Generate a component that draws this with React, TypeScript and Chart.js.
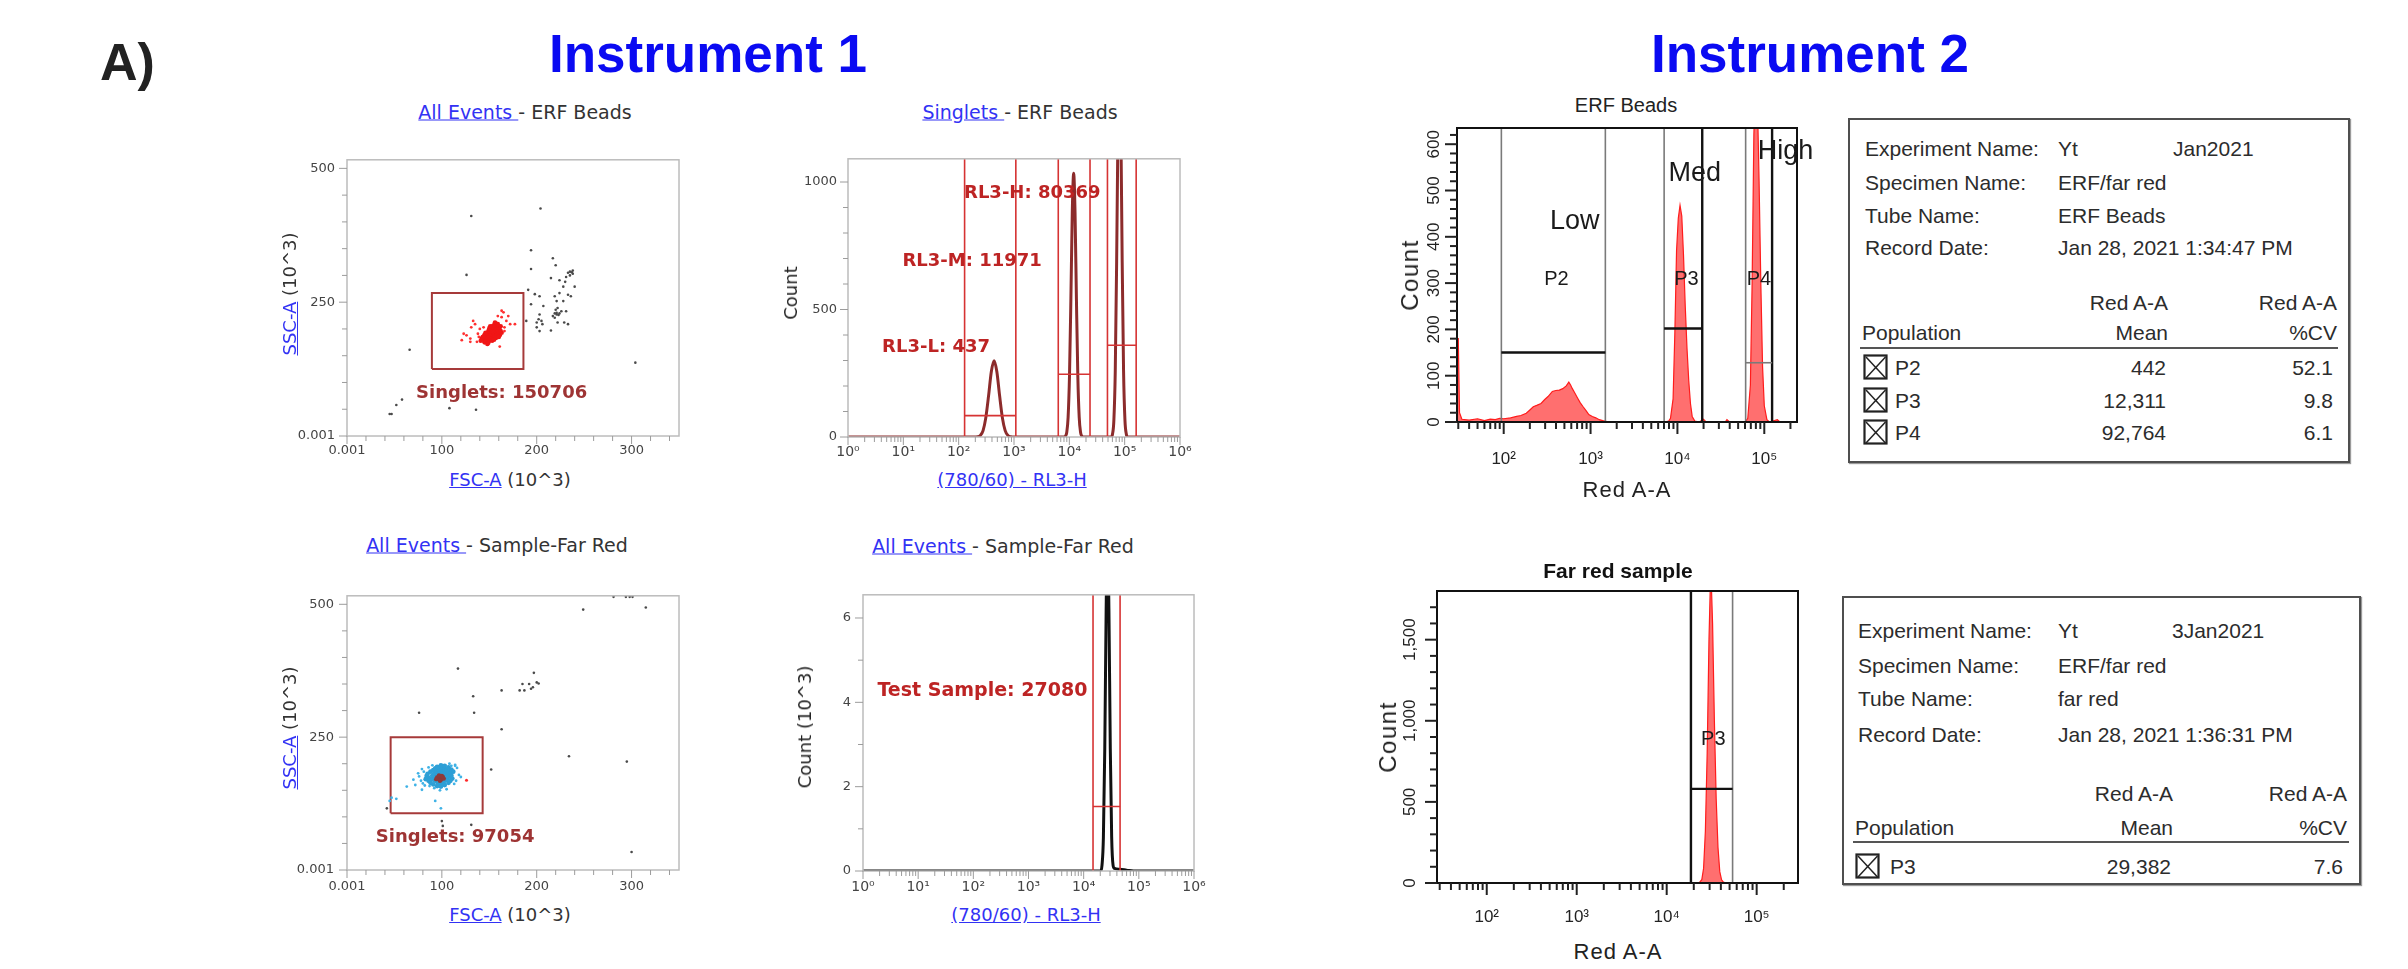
import React, { useEffect, useRef } from 'react';
import { Chart, registerables } from 'chart.js';

Chart.register(...registerables);

type Pt = [number, number];

/* ---------- Instrument 1 · ERF beads · FSC-A vs SSC-A (x10^3) ---------- */
const erfCoreEvents: Pt[] = [
  [145, 175], [147, 178], [149, 180], [151, 182], [153, 185], [155, 188], [157, 191], [159, 195], [161, 199],
  [148, 184], [150, 187], [152, 190], [154, 193], [156, 196], [158, 199], [160, 203], [144, 180], [146, 183],
  [148, 188], [150, 192], [152, 195], [154, 198], [156, 202], [158, 206], [143, 185], [145, 189], [147, 192],
  [149, 196], [151, 199], [153, 203], [155, 207], [157, 210], [150, 178], [152, 181], [154, 183], [156, 186],
  [158, 189], [160, 192], [162, 196], [146, 176], [149, 174], [153, 178], [157, 183], [161, 188], [163, 193],
  [142, 182], [144, 186], [146, 193], [150, 201], [154, 206], [159, 209], [141, 178], [148, 172], [155, 180],
  [160, 185], [151, 205], [156, 212], [162, 205],
];
const erfSingletEvents: Pt[] = [
  [121, 179], [130, 182], [133, 215], [131, 203], [135, 209], [140, 200], [144, 203], [138, 191], [126, 188],
  [165, 231], [170, 224], [172, 209], [177, 209], [159, 224], [163, 234], [130, 176], [161, 167], [166, 203],
  [123, 191], [137, 176], [168, 215], [163, 222], [139, 185], [166, 196],
];
const erfOtherEvents: Pt[] = [
  [204, 425], [131, 411], [194, 347], [217, 332], [220, 319], [126, 301], [237, 306], [238, 309], [235, 300],
  [235, 307], [238, 303], [233, 305], [194, 312], [215, 295], [224, 291], [231, 297], [228, 279], [240, 279],
  [236, 261], [191, 273], [198, 265], [203, 261], [219, 261], [221, 252], [228, 252], [194, 246], [207, 243],
  [222, 239], [221, 230], [226, 233], [231, 233], [220, 236], [221, 227], [217, 224], [203, 227], [205, 215],
  [200, 212], [189, 215], [219, 221], [222, 212], [229, 212], [233, 209], [215, 197], [200, 203], [203, 196],
  [202, 218], [206, 209], [230, 288], [233, 264], [224, 267], [223, 226], [224, 229], [219, 229],
  [66, 161], [58, 68], [52, 58], [45, 41], [47, 41], [108, 52], [136, 49], [304, 137],
];
const erfSingletGate = { fscLo: 89.5, fscHi: 186, sscLo: 125, sscHi: 267 };
const erfSingletTag = { x: 163, y: 80, text: 'Singlets: 150706' };

/* ---------- Instrument 1 · far red sample · FSC-A vs SSC-A ---------- */
const sampleDarkCore: Pt[] = [
  [96, 172], [98, 174], [100, 173], [97, 176], [99, 170], [101, 175], [95, 174], [98, 168], [102, 172],
  [97, 178], [100, 177], [94, 171],
];
const sampleBlueCore: Pt[] = [
  [88, 170], [90, 173], [92, 176], [94, 179], [96, 182], [98, 185], [100, 188], [102, 186], [104, 183],
  [106, 180], [108, 177], [106, 172], [104, 169], [102, 166], [100, 163], [98, 161], [96, 164], [94, 167],
  [92, 169], [90, 178], [92, 182], [94, 186], [96, 189], [98, 192], [100, 194], [103, 191], [105, 188],
  [107, 185], [109, 182], [110, 178], [86, 174], [84, 177], [85, 181], [88, 185], [91, 188], [93, 191],
  [95, 194], [99, 197], [103, 196], [107, 193], [110, 189], [112, 185], [111, 172], [109, 168], [107, 164],
  [103, 160], [99, 157], [95, 158], [91, 161], [88, 164], [86, 168], [83, 171], [97, 172], [99, 175],
  [101, 178], [95, 176], [93, 173], [103, 174], [105, 176], [100, 181], [97, 179], [101, 170], [94, 171],
];
const sampleBlueEvents: Pt[] = [
  [76, 176], [78, 168], [80, 163], [81, 185], [79, 190], [75, 182], [114, 196], [116, 192], [118, 179],
  [115, 168], [113, 162], [120, 175], [105, 152], [98, 150], [92, 154], [87, 158], [82, 159], [70, 170],
  [72, 160], [63, 157], [79, 151], [93, 130], [99, 116], [52, 134], [47, 136], [45, 130], [110, 196],
  [114, 198], [108, 200], [90, 197], [86, 193],
];
const sampleRedEvents: Pt[] = [[126, 169]];
const sampleOtherEvents: Pt[] = [
  [42, 116], [100, 92], [101, 83], [131, 85], [152, 189], [76, 296], [117, 379], [133, 327], [134, 296],
  [163, 338], [163, 265], [197, 371], [182, 338], [187, 338], [185, 350], [192, 350], [196, 344], [200, 353],
  [202, 351], [194, 341], [234, 214], [249, 490], [315, 494], [281, 514], [294, 514], [298, 514], [301, 514],
  [295, 204], [300, 34],
];
const sampleSingletGate = { fscLo: 46, fscHi: 143, sscLo: 107, sscHi: 250 };
const sampleSingletTag = { x: 114, y: 62, text: 'Singlets: 97054' };

/* ---------- Instrument 1 · (780/60) RL3-H histograms ---------- */
const rl3Intensity = [
  1, 195, 219, 246, 276, 309, 347, 389, 437, 490, 550, 617, 693, 777, 872, 978,
  7800, 8472, 8974, 9508, 10072, 10669, 11301, 11971, 12681, 13431, 14228, 15071, 15969, 16915, 18000,
  56878, 60247, 63835, 67622, 71630, 75870, 80369, 85135, 90174, 95519, 101185, 107212, 113561, 1000000,
];
const rl3Count = [
  0, 0, 1, 6, 25, 75, 161, 256, 299, 256, 161, 75, 25, 6, 1, 0,
  0, 3, 18, 78, 242, 542, 880, 1034, 880, 542, 242, 78, 18, 3, 0,
  0, 11, 66, 259, 687, 1233, 1500, 1233, 687, 259, 66, 11, 0, 0,
];
const rl3Gates = [
  { lo: 128, hi: 1079, level: 84 },
  { lo: 6310, hi: 23650, level: 246 },
  { lo: 48860, hi: 161400, level: 360 },
];
const rl3Tags = [
  { x: 2138, y: 955, text: 'RL3-H: 80369' },
  { x: 175, y: 689, text: 'RL3-M: 11971' },
  { x: 39, y: 350, text: 'RL3-L: 437' },
];

const sampleIntensity = [1, 20300, 21509, 22785, 24135, 25564, 27080, 28686, 30384, 32185, 34094, 36125, 45000, 60000, 80000, 1000000];
const sampleCountK = [0, 0, 0.14, 0.8, 2.9, 6.2, 8, 6.2, 2.9, 0.8, 0.14, 0.06, 0.04, 0.02, 0, 0];
const sampleGate = { lo: 14780, hi: 45700, level: 1.53 };
const sampleTag = { x: 146, y: 4.26, text: 'Test Sample: 27080' };

/* ---------- Instrument 2 · Red A-A histograms ---------- */
const erfRedA = [
  29, 30, 31, 33, 40, 50, 60, 70, 80, 90, 100, 120, 141, 158, 182, 200, 219, 240, 269, 295, 324, 363, 398, 437,
  479, 525, 562, 589, 617, 661, 708, 759, 813, 891, 955, 1047, 1148, 1259, 1380, 1549, 1995, 7079, 7943, 8318,
  8913, 9333, 9772, 10233, 10715, 11220, 11749, 12303, 12882, 13490, 14125, 14791, 15849, 17783, 19953, 21380,
  35481, 37154, 39811, 60256, 64565, 69183, 72444, 75858, 79433, 83176, 87096, 91201, 95499, 100000, 107152,
  114815, 141254, 151356, 238000,
];
const erfRedCount = [
  180, 180, 20, 6, 4, 7, 3, 6, 5, 8, 7, 9, 12, 14, 19, 26, 33, 36, 40, 48, 55, 66, 68, 69,
  72, 78, 86, 80, 72, 62, 52, 42, 34, 24, 16, 12, 9, 5, 3, 1, 0, 0, 2, 8,
  50, 190, 370, 440, 468, 445, 360, 250, 160, 90, 40, 12, 2, 0, 6, 0,
  0, 5, 0, 0, 8, 80, 300, 620, 760, 700, 520, 300, 120, 35, 5,
  0, 5, 0, 0,
];
const erfRedGates = [
  { lo: 94, hi: 1480, level: 150 },
  { lo: 7030, hi: 19300, level: 202 },
  { lo: 61000, hi: 123000, level: 128 },
];
const erfRegionTags = [
  { x: 658, y: 433, text: 'Low' },
  { x: 15850, y: 537, text: 'Med' },
  { x: 175800, y: 584, text: 'High' },
];
const erfGateTags = [
  { x: 404, y: 307, text: 'P2' },
  { x: 12700, y: 307, text: 'P3' },
  { x: 86700, y: 307, text: 'P4' },
];

const farRedA = [28, 4000, 4500, 5000, 22909, 24547, 25704, 26915, 28184, 29512, 30903, 32359, 33884, 35481, 37154, 38905, 40738, 42658, 45709, 288000];
const farRedCount = [0, 0, 3, 0, 0, 20, 90, 320, 800, 1500, 1950, 1600, 1000, 520, 220, 70, 20, 5, 0, 0];
const farRedGate = { lo: 18600, hi: 54000, level: 580 };
const farRedTags = [{ x: 33000, y: 883, text: 'P3' }];

/* ---------- Instrument 2 · statistics tables ---------- */
const erfMeta = [
  ['Experiment Name:', 'Yt'],
  ['Specimen Name:', 'ERF/far red'],
  ['Tube Name:', 'ERF Beads'],
  ['Record Date:', 'Jan 28, 2021 1:34:47 PM'],
];
const erfStamp = 'Jan2021';
const erfStats = [
  ['P2', '442', '52.1'],
  ['P3', '12,311', '9.8'],
  ['P4', '92,764', '6.1'],
];
const farRedMeta = [
  ['Experiment Name:', 'Yt'],
  ['Specimen Name:', 'ERF/far red'],
  ['Tube Name:', 'far red'],
  ['Record Date:', 'Jan 28, 2021 1:36:31 PM'],
];
const farRedStamp = '3Jan2021';
const farRedStats = [['P3', '29,382', '7.6']];

/* ---------- helpers ---------- */
const VERDANA = '"DejaVu Sans", Verdana, sans-serif';
const ARIAL = '"Liberation Sans", Arial, sans-serif';
const LINK = '#3232f4';

const SUP: Record<string, string> = { '0': '⁰', '1': '¹', '2': '²', '3': '³', '4': '⁴', '5': '⁵', '6': '⁶', '7': '⁷', '8': '⁸', '9': '⁹' };
const decadeLabel = (v: number) => {
  const e = Math.log10(v);
  const r = Math.round(e);
  return Math.abs(e - r) < 1e-6 ? '10' + String(r).split('').map((c) => SUP[c]).join('') : '';
};
const logTicks = (min: number, max: number) => {
  const out: number[] = [];
  for (let d = Math.floor(Math.log10(min)); d <= Math.ceil(Math.log10(max)); d++) {
    for (let k = 1; k <= 9; k++) {
      const v = k * Math.pow(10, d);
      if (v >= min * 0.9999 && v <= max * 1.0001) out.push(v);
    }
  }
  return out;
};
const linTicks = (min: number, max: number, step: number) => {
  const out: number[] = [];
  for (let v = min; v <= max + 1e-9; v += step) out.push(Math.round(v * 1e6) / 1e6);
  return out;
};
const thousands = (v: number) => (v >= 1000 ? `${Math.floor(v / 1000)},${String(v % 1000).padStart(3, '0')}` : String(v));

const pts = (arr: Pt[]) => arr.map(([x, y]) => ({ x, y }));
const series = (xs: number[], ys: number[]) => xs.map((x, i) => ({ x, y: ys[i] }));

const dots = (data: any[], color: string, r: number) => ({
  data, showLine: false, pointRadius: r, pointBackgroundColor: color, pointBorderWidth: 0, pointHoverRadius: 0,
});
const path = (data: any[], color: string, width: number, extra: any = {}) => ({
  data, borderColor: color, borderWidth: width, pointRadius: 0, fill: false, tension: 0, ...extra,
});
const rectGate = (g: { fscLo: number; fscHi: number; sscLo: number; sscHi: number }, color: string) =>
  path(
    [
      { x: g.fscLo, y: g.sscLo }, { x: g.fscHi, y: g.sscLo }, { x: g.fscHi, y: g.sscHi },
      { x: g.fscLo, y: g.sscHi }, { x: g.fscLo, y: g.sscLo },
    ],
    color, 2,
  );
type LineStyle = [string, number];
const gateLines = (g: { lo: number; hi: number; level: number }, top: number, lo: LineStyle, hi: LineStyle, lvl: LineStyle) => [
  path([{ x: g.lo, y: g.level }, { x: g.hi, y: g.level }], lvl[0], lvl[1]),
  path([{ x: g.lo, y: 0 }, { x: g.lo, y: top }], lo[0], lo[1]),
  path([{ x: g.hi, y: 0 }, { x: g.hi, y: top }], hi[0], hi[1]),
];

interface AxisSpec {
  type: 'linear' | 'logarithmic';
  min: number; max: number; ticks: number[];
  label: (v: number) => string;
  font: any; color: string; padding: number; show?: boolean;
}
interface Margins { l: number; t: number; r: number; b: number }

const scaleCfg = (a: AxisSpec, fit: (s: any) => void) => ({
  type: a.type, min: a.min, max: a.max, bounds: 'data',
  grid: { display: false, drawTicks: false },
  border: { display: false },
  afterBuildTicks: (s: any) => { s.ticks = a.ticks.map((v) => ({ value: v })); },
  afterFit: fit,
  ticks: {
    display: a.show !== false, autoSkip: false, maxRotation: 0, minRotation: 0,
    padding: a.padding, font: a.font, color: a.color,
    callback: (v: any) => a.label(Number(v)),
  },
});

const framePlugin = (color: string, width: number) => ({
  id: 'frame',
  afterDatasetsDraw(chart: any) {
    const { ctx, chartArea: c } = chart;
    ctx.save();
    ctx.strokeStyle = color;
    ctx.lineWidth = width;
    ctx.strokeRect(c.left, c.top, c.right - c.left, c.bottom - c.top);
    ctx.restore();
  },
});

interface MarkStyle { major: number; minor: number; color: string; width: number }
const tickMarkPlugin = (x: AxisSpec, y: AxisSpec, mx: MarkStyle, my: MarkStyle) => ({
  id: 'tickMarks',
  afterDatasetsDraw(chart: any) {
    const { ctx, chartArea: c } = chart;
    const draw = (scale: any, spec: AxisSpec, s: MarkStyle, horizontal: boolean) => {
      ctx.save();
      ctx.strokeStyle = s.color;
      ctx.lineWidth = s.width;
      for (const v of spec.ticks) {
        if (v < spec.min * 0.9999 || v > spec.max * 1.0001) continue;
        const len = spec.label(v) ? s.major : s.minor;
        const p = scale.getPixelForValue(v);
        ctx.beginPath();
        if (horizontal) { ctx.moveTo(p, c.bottom); ctx.lineTo(p, c.bottom + len); }
        else { ctx.moveTo(c.left, p); ctx.lineTo(c.left - len, p); }
        ctx.stroke();
      }
      ctx.restore();
    };
    draw(chart.scales.x, x, mx, true);
    draw(chart.scales.y, y, my, false);
  },
});

const rotatedYLabels = (spec: AxisSpec, offset: number, font: string, color: string) => ({
  id: 'rotatedYLabels',
  afterDraw(chart: any) {
    const { ctx, chartArea: c } = chart;
    const s = chart.scales.y;
    ctx.save();
    ctx.font = font;
    ctx.fillStyle = color;
    ctx.textAlign = 'center';
    ctx.textBaseline = 'middle';
    for (const v of spec.ticks) {
      const txt = spec.label(v);
      if (!txt) continue;
      ctx.save();
      ctx.translate(c.left - offset, s.getPixelForValue(v));
      ctx.rotate(-Math.PI / 2);
      ctx.fillText(txt, 0, 0);
      ctx.restore();
    }
    ctx.restore();
  },
});

interface NoteGroup { notes: { x: number; y: number; text: string }[]; font: string; color: string }
const notesPlugin = (groups: NoteGroup[]) => ({
  id: 'notes',
  afterDraw(chart: any) {
    const { ctx } = chart;
    const xs = chart.scales.x;
    const ys = chart.scales.y;
    ctx.save();
    ctx.textAlign = 'center';
    ctx.textBaseline = 'middle';
    for (const g of groups) {
      ctx.font = g.font;
      ctx.fillStyle = g.color;
      for (const n of g.notes) ctx.fillText(n.text, xs.getPixelForValue(n.x), ys.getPixelForValue(n.y));
    }
    ctx.restore();
  },
});

const chartConfig = (m: Margins, x: AxisSpec, y: AxisSpec, datasets: any[], plugins: any[]) => ({
  type: 'line',
  data: { datasets },
  options: {
    animation: false,
    responsive: false,
    events: [],
    layout: { padding: { top: m.t, right: m.r, bottom: 0, left: 0 } },
    plugins: { legend: { display: false }, tooltip: { enabled: false } },
    scales: {
      x: scaleCfg(x, (s: any) => { s.height = m.b; }),
      y: scaleCfg(y, (s: any) => { s.width = m.l; }),
    },
  },
  plugins,
});

interface Box { x: number; y: number; w: number; h: number }
function Plot({ box, m, build }: { box: Box; m: Margins; build: () => any }) {
  const ref = useRef<HTMLCanvasElement>(null);
  useEffect(() => {
    const chart = new Chart(ref.current as HTMLCanvasElement, build() as any);
    return () => chart.destroy();
  }, []);
  const W = box.w + m.l + m.r;
  const H = box.h + m.t + m.b;
  return (
    <canvas
      ref={ref}
      width={W}
      height={H}
      style={{ position: 'absolute', left: box.x - m.l, top: box.y - m.t, width: W, height: H }}
    />
  );
}

function T(props: any) {
  const { x, y, children, size = 18, family = VERDANA, color = '#333', weight = 400, anchor = 'center', rotate = false, spacing } = props;
  const tx = anchor === 'center' ? '-50%' : anchor === 'right' ? '-100%' : '0';
  return (
    <div
      style={{
        position: 'absolute', left: x, top: y,
        transform: `translate(${tx}, -50%)${rotate ? ' rotate(-90deg)' : ''}`,
        fontFamily: family, fontSize: size, fontWeight: weight, color, lineHeight: 1,
        whiteSpace: 'pre', letterSpacing: spacing,
      }}
    >
      {children}
    </div>
  );
}
const Link = ({ children }: any) => <span style={{ color: LINK, textDecoration: 'underline' }}>{children}</span>;

/* ---------- Instrument 1 chart builders ---------- */
const I1_TICK_FONT = { family: '"DejaVu Sans"', size: 13 };
const I1_LOG_FONT = { family: '"DejaVu Sans"', size: 14 };
const I1_MARKS: MarkStyle = { major: 8, minor: 5, color: '#9c9c9c', width: 1 };
const I1_FRAME = framePlugin('#bcbcbc', 1.5);
const TAG_FONT = 'bold 18px "DejaVu Sans"';

const fscAxis = (padding: number): AxisSpec => ({
  type: 'linear', min: 0, max: 350, ticks: linTicks(0, 340, 20),
  label: (v) => (v === 0 ? '0.001' : v % 100 === 0 ? String(v) : ''),
  font: I1_TICK_FONT, color: '#444', padding,
});
const sscAxis = (padding: number): AxisSpec => ({
  type: 'linear', min: 0, max: 516, ticks: linTicks(0, 500, 50),
  label: (v) => (v === 0 ? '0.001' : v % 250 === 0 ? String(v) : ''),
  font: I1_TICK_FONT, color: '#444', padding,
});
const rl3Axis = (padding: number): AxisSpec => ({
  type: 'logarithmic', min: 1, max: 1e6, ticks: logTicks(1, 1e6),
  label: decadeLabel, font: I1_LOG_FONT, color: '#444', padding,
});

const boxA: Box = { x: 347, y: 150, w: 332, h: 286 };
const boxB: Box = { x: 848, y: 150, w: 332, h: 287 };
const boxC: Box = { x: 347, y: 585, w: 332, h: 285 };
const boxD: Box = { x: 863, y: 585, w: 331, h: 286 };
const mI1: Margins = { l: 70, t: 10, r: 22, b: 30 };

const buildErfScatter = () => {
  const x = fscAxis(7);
  const y = sscAxis(12);
  return chartConfig(mI1, x, y, [
    dots(pts(erfCoreEvents), '#f01616', 2.3),
    dots(pts(erfSingletEvents), '#ff3030', 1.4),
    dots(pts(erfOtherEvents), '#4a4a4a', 1.3),
    rectGate(erfSingletGate, '#a63a3a'),
  ], [I1_FRAME, tickMarkPlugin(x, y, I1_MARKS, I1_MARKS), notesPlugin([{ notes: [erfSingletTag], font: TAG_FONT, color: '#9e3434' }])]);
};

const buildSampleScatter = () => {
  const x = fscAxis(9);
  const y = sscAxis(13);
  return chartConfig(mI1, x, y, [
    dots(pts(sampleDarkCore), '#8e3a3a', 2.2),
    dots(pts(sampleBlueCore), '#2d9fd6', 2.4),
    dots(pts(sampleBlueEvents), '#3fb2e6', 1.4),
    dots(pts(sampleRedEvents), '#ff2a2a', 1.5),
    dots(pts(sampleOtherEvents), '#4a4a4a', 1.3),
    rectGate(sampleSingletGate, '#a63a3a'),
  ], [I1_FRAME, tickMarkPlugin(x, y, I1_MARKS, I1_MARKS), notesPlugin([{ notes: [sampleSingletTag], font: TAG_FONT, color: '#9e3434' }])]);
};

const buildRl3Beads = () => {
  const x = rl3Axis(7);
  const y: AxisSpec = {
    type: 'linear', min: 0, max: 1091, ticks: linTicks(0, 1000, 100),
    label: (v) => (v % 500 === 0 ? String(v) : ''), font: I1_TICK_FONT, color: '#444', padding: 11,
  };
  const red: LineStyle = ['#d63333', 1.6];
  const gates = rl3Gates.flatMap((g) => gateLines(g, 1091, red, red, red));
  return chartConfig(mI1, x, y, [
    ...gates,
    path(series(rl3Intensity, rl3Count), '#8c2b2b', 3, { cubicInterpolationMode: 'monotone' }),
  ], [I1_FRAME, tickMarkPlugin(x, y, I1_MARKS, I1_MARKS), notesPlugin([{ notes: rl3Tags, font: TAG_FONT, color: '#bd2424' }])]);
};

const buildRl3Sample = () => {
  const x = rl3Axis(8);
  const y: AxisSpec = {
    type: 'linear', min: 0, max: 6.55, ticks: linTicks(0, 6, 1),
    label: (v) => (v % 2 === 0 ? String(v) : ''), font: I1_TICK_FONT, color: '#444', padding: 12,
  };
  const red: LineStyle = ['#d63333', 1.6];
  return chartConfig(mI1, x, y, [
    ...gateLines(sampleGate, 6.55, red, red, red),
    path(series(sampleIntensity, sampleCountK), '#111', 3, { cubicInterpolationMode: 'monotone' }),
  ], [I1_FRAME, tickMarkPlugin(x, y, I1_MARKS, I1_MARKS), notesPlugin([{ notes: [sampleTag], font: 'bold 19px "DejaVu Sans"', color: '#bd2424' }])]);
};

/* ---------- Instrument 2 chart builders ---------- */
const I2_TICK_FONT = { family: '"Liberation Sans"', size: 17 };
const I2_MARKS: MarkStyle = { major: 12, minor: 7, color: '#222', width: 2 };
const I2_FRAME = framePlugin('#111', 2);
const GRAY: LineStyle = ['#7a7a7a', 1.6];
const BLACK: LineStyle = ['#111', 2.4];
const FILL = { fill: 'origin', backgroundColor: 'rgba(255, 55, 55, 0.72)' };
const I2_YLABEL_FONT = '17px "Liberation Sans"';

const boxE: Box = { x: 1457, y: 128, w: 340, h: 294 };
const boxF: Box = { x: 1437, y: 591, w: 361, h: 292 };
const mE: Margins = { l: 50, t: 10, r: 36, b: 55 };
const mF: Margins = { l: 50, t: 10, r: 24, b: 55 };

const buildErfRed = () => {
  const x: AxisSpec = { type: 'logarithmic', min: 29, max: 238000, ticks: logTicks(29, 238000), label: decadeLabel, font: I2_TICK_FONT, color: '#222', padding: 27 };
  const y: AxisSpec = {
    type: 'linear', min: 0, max: 635, ticks: linTicks(0, 620, 20),
    label: (v) => (v % 100 === 0 ? String(v) : ''), font: I2_TICK_FONT, color: '#222', padding: 0, show: false,
  };
  const [g2, g3, g4] = erfRedGates;
  return chartConfig(mE, x, y, [
    ...gateLines(g2, 635, GRAY, GRAY, BLACK),
    ...gateLines(g3, 635, GRAY, BLACK, BLACK),
    ...gateLines(g4, 635, GRAY, BLACK, GRAY),
    path(series(erfRedA, erfRedCount), '#ff1c1c', 1.2, FILL),
  ], [
    I2_FRAME,
    tickMarkPlugin(x, y, I2_MARKS, I2_MARKS),
    rotatedYLabels(y, 23, I2_YLABEL_FONT, '#222'),
    notesPlugin([
      { notes: erfRegionTags, font: '27px "Liberation Sans"', color: '#1a1a1a' },
      { notes: erfGateTags, font: '20px "Liberation Sans"', color: '#1a1a1a' },
    ]),
  ]);
};

const buildFarRed = () => {
  const x: AxisSpec = { type: 'logarithmic', min: 28, max: 288000, ticks: logTicks(28, 288000), label: decadeLabel, font: I2_TICK_FONT, color: '#222', padding: 24 };
  const y: AxisSpec = {
    type: 'linear', min: 0, max: 1800, ticks: linTicks(0, 1700, 100),
    label: (v) => (v % 500 === 0 ? thousands(v) : ''), font: I2_TICK_FONT, color: '#222', padding: 0, show: false,
  };
  return chartConfig(mF, x, y, [
    ...gateLines(farRedGate, 1800, BLACK, GRAY, BLACK),
    path(series(farRedA, farRedCount), '#ff1c1c', 1.2, FILL),
  ], [
    I2_FRAME,
    tickMarkPlugin(x, y, I2_MARKS, I2_MARKS),
    rotatedYLabels(y, 27, I2_YLABEL_FONT, '#222'),
    notesPlugin([{ notes: farRedTags, font: '20px "Liberation Sans"', color: '#1a1a1a' }]),
  ]);
};

/* ---------- statistics table ---------- */
interface TableLayout {
  left: number; top: number; w: number; h: number;
  labelX: number; valueX: number; stampX: number; rowY: number[];
  head1Y: number; head2Y: number; popX: number; meanR: number; cvR: number;
  lineY: number; lineX0: number; lineX1: number; statY: number[]; boxX: number; pX: number;
}
const tableOne: TableLayout = {
  left: 1848, top: 118, w: 502, h: 345, labelX: 1865, valueX: 2058, stampX: 2173, rowY: [148, 182, 215, 247],
  head1Y: 302, head2Y: 332, popX: 1862, meanR: 2168, cvR: 2337, lineY: 348, lineX0: 1860, lineX1: 2338,
  statY: [367, 400, 432], boxX: 1863, pX: 1895,
};
const tableTwo: TableLayout = {
  left: 1842, top: 596, w: 519, h: 289, labelX: 1858, valueX: 2058, stampX: 2172, rowY: [630, 665, 698, 734],
  head1Y: 793, head2Y: 827, popX: 1855, meanR: 2173, cvR: 2347, lineY: 842, lineX0: 1853, lineX1: 2349,
  statY: [866], boxX: 1855, pX: 1890,
};

function CheckBox({ x, y }: { x: number; y: number }) {
  return (
    <svg style={{ position: 'absolute', left: x, top: y - 13 }} width={26} height={27}>
      <rect x={1.5} y={1.5} width={22} height={23} fill="none" stroke="#222" strokeWidth={2.2} />
      <line x1={3} y1={3} x2={22.5} y2={24} stroke="#222" strokeWidth={1.5} />
      <line x1={22.5} y1={3} x2={3} y2={24} stroke="#222" strokeWidth={1.5} />
    </svg>
  );
}

function StatsTable({ L, meta, stamp, stats }: { L: TableLayout; meta: string[][]; stamp: string; stats: string[][] }) {
  const txt = { family: ARIAL, size: 21, color: '#2c2c2c' };
  return (
    <>
      <div
        style={{
          position: 'absolute', left: L.left, top: L.top, width: L.w, height: L.h,
          border: '2px solid #4f4f4f', boxSizing: 'border-box', boxShadow: '1px 1px 1px #9a9a9a',
        }}
      />
      {meta.map(([k, v], i) => (
        <React.Fragment key={k}>
          <T {...txt} x={L.labelX} y={L.rowY[i]} anchor="left">{k}</T>
          <T {...txt} x={L.valueX} y={L.rowY[i]} anchor="left">{v}</T>
        </React.Fragment>
      ))}
      <T {...txt} x={L.stampX} y={L.rowY[0]} anchor="left">{stamp}</T>
      <T {...txt} x={L.meanR} y={L.head1Y} anchor="right">Red A-A</T>
      <T {...txt} x={L.cvR} y={L.head1Y} anchor="right">Red A-A</T>
      <T {...txt} x={L.popX} y={L.head2Y} anchor="left">Population</T>
      <T {...txt} x={L.meanR} y={L.head2Y} anchor="right">Mean</T>
      <T {...txt} x={L.cvR} y={L.head2Y} anchor="right">%CV</T>
      <div style={{ position: 'absolute', left: L.lineX0, top: L.lineY - 1, width: L.lineX1 - L.lineX0, height: 2, background: '#555' }} />
      {stats.map(([p, mean, cv], i) => (
        <React.Fragment key={p}>
          <CheckBox x={L.boxX} y={L.statY[i]} />
          <T {...txt} x={L.pX} y={L.statY[i]} anchor="left">{p}</T>
          <T {...txt} x={L.meanR - 2} y={L.statY[i]} anchor="right">{mean}</T>
          <T {...txt} x={L.cvR - 4} y={L.statY[i]} anchor="right">{cv}</T>
        </React.Fragment>
      ))}
    </>
  );
}

export default function App() {
  return (
    <div style={{ position: 'absolute', left: 0, top: 0, width: 2408, height: 969, background: '#fff', overflow: 'hidden' }}>
      <T x={100} y={62} anchor="left" family={ARIAL} size={52} weight={700} color="#222">A)</T>
      <T x={708} y={53} family={ARIAL} size={53} weight={700} color="#0a0af2">Instrument 1</T>
      <T x={1810} y={53} family={ARIAL} size={53} weight={700} color="#0a0af2">Instrument 2</T>

      {/* Instrument 1 */}
      <Plot box={boxA} m={mI1} build={buildErfScatter} />
      <Plot box={boxB} m={mI1} build={buildRl3Beads} />
      <Plot box={boxC} m={mI1} build={buildSampleScatter} />
      <Plot box={boxD} m={mI1} build={buildRl3Sample} />

      <T x={525} y={112} size={19}><Link>All Events </Link>- ERF Beads</T>
      <T x={1020} y={112} size={19}><Link>Singlets </Link>- ERF Beads</T>
      <T x={497} y={545} size={19}><Link>All Events </Link>- Sample-Far Red</T>
      <T x={1003} y={546} size={19}><Link>All Events </Link>- Sample-Far Red</T>

      <T x={510} y={480} size={18}><Link>FSC-A</Link> (10^3)</T>
      <T x={1012} y={480} size={18}><Link>(780/60) - RL3-H</Link></T>
      <T x={510} y={915} size={18}><Link>FSC-A</Link> (10^3)</T>
      <T x={1026} y={915} size={18}><Link>(780/60) - RL3-H</Link></T>

      <T x={290} y={294} size={18} rotate><Link>SSC-A</Link> (10^3)</T>
      <T x={791} y={293} size={18} rotate color="#222">Count</T>
      <T x={290} y={728} size={18} rotate><Link>SSC-A</Link> (10^3)</T>
      <T x={805} y={727} size={18} rotate color="#222">Count (10^3)</T>

      {/* Instrument 2 */}
      <Plot box={boxE} m={mE} build={buildErfRed} />
      <Plot box={boxF} m={mF} build={buildFarRed} />

      <T x={1626} y={105} family={ARIAL} size={20} color="#222">ERF Beads</T>
      <T x={1618} y={570} family={ARIAL} size={21} weight={700} color="#111">Far red sample</T>
      <T x={1410} y={275} family={ARIAL} size={24} rotate color="#222" spacing={1.5}>Count</T>
      <T x={1388} y={737} family={ARIAL} size={24} rotate color="#222" spacing={1.5}>Count</T>
      <T x={1627} y={490} family={ARIAL} size={22} color="#222" spacing={1}>Red A-A</T>
      <T x={1618} y={952} family={ARIAL} size={22} color="#222" spacing={1}>Red A-A</T>

      <StatsTable L={tableOne} meta={erfMeta} stamp={erfStamp} stats={erfStats} />
      <StatsTable L={tableTwo} meta={farRedMeta} stamp={farRedStamp} stats={farRedStats} />
    </div>
  );
}
